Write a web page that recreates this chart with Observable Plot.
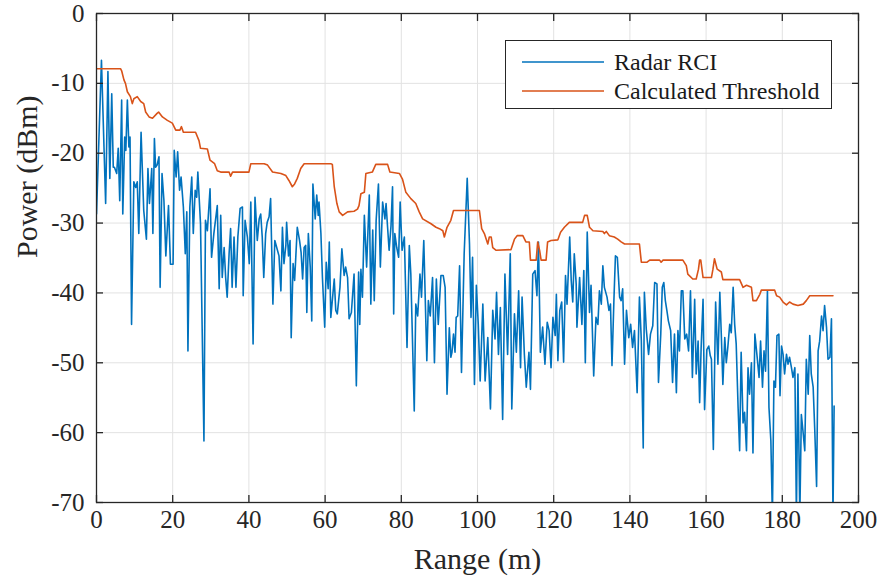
<!DOCTYPE html>
<html>
<head>
<meta charset="utf-8">
<script src="https://cdn.jsdelivr.net/npm/d3@7"></script>
<script src="https://cdn.jsdelivr.net/npm/@observablehq/plot@0.6"></script>
<style>
  body { margin: 0; background: #fff; }
  #wrap { position: relative; width: 880px; height: 585px; }
</style>
</head>
<body>
<div id="wrap" style="font-family:'Liberation Serif'"></div>
<script>
// Radar RCI (range in m, power in dBm)
const rciRange = [
  0,1.3,2.4,3.0,3.5,4.0,4.4,4.7,5.3,5.7,6.1,6.6,6.9,7.4,7.7,8.1,8.5,8.8,9.2,9.8,10.3,10.7,11.1,11.7,12.4,13.1,13.5,13.9,14.5,14.8,15.2,15.5,15.9,16.4,16.7,17.2,17.7,18.2,18.9,19.4,20.1,20.4,20.9,21.3,21.8,22.2,22.8,23.3,23.7,24.0,24.5,25.0,25.4,25.9,26.3,26.6,27.3,
  28.2,28.6,29.1,29.8,30.2,30.8,31.7,32.2,32.6,33.0,33.5,33.9,34.3,34.8,35.2,35.6,36.1,36.6,37.1,37.7,38.3,38.5,39.0,39.6,40.1,40.5,41.1,41.6,42.2,42.7,43.1,43.5,43.9,44.4,44.8,45.3,45.7,46.3,46.8,47.3,47.9,48.4,48.8,49.2,49.7,49.9,50.4,50.8,51.1,51.6,52.0,52.7,53.3,53.7,54.1,54.5,54.9,55.2,55.6,56.1,56.5,56.8,57.1,57.4,57.8,58.2,58.4,58.9,59.3,59.9,60.3,60.8,61.1,61.5,
  62.4,62.8,63.2,63.9,64.4,65.0,65.4,65.9,66.3,66.9,67.6,68.2,68.8,69.1,69.4,69.8,70.3,70.9,71.6,72.0,72.5,72.9,73.4,74.0,74.5,75.1,75.7,76.0,76.4,76.8,77.3,77.7,78.0,78.3,78.8,79.3,79.7,80.2,80.8,81.5,82.1,82.5,83.4,83.8,84.3,84.9,85.3,85.9,86.7,87.1,87.6,88.2,88.7,89.2,89.7,90.4,91.0,91.5,92.0,92.6,93.0,
  93.3,93.7,94.1,94.4,94.8,95.3,95.8,96.5,97.3,97.9,98.3,98.7,99.2,99.7,100.2,100.7,101.4,102.0,102.7,103.4,104.0,104.6,105.0,105.5,106.0,106.6,107.2,107.9,108.6,109.0,109.7,110.2,110.8,111.3,111.7,112.3,112.8,113.5,113.9,114.5,115.1,115.6,116.0,116.5,117.1,117.7,118.3,118.8,119.3,119.8,120.4,120.7,121.1,121.6,122.1,122.6,123.1,123.5,124.2,124.6,
  125.0,125.4,125.9,126.1,126.8,127.4,127.9,128.3,128.8,129.4,129.8,130.5,131.1,131.6,132.0,132.5,132.9,133.3,134.0,134.5,134.9,135.3,135.8,136.2,136.7,137.3,137.7,138.1,138.6,139.1,139.7,140.2,140.7,141.2,141.9,142.5,143.0,143.5,143.8,144.3,144.9,145.4,146.0,146.5,147.1,147.5,148.1,148.5,148.9,149.3,149.7,150.1,150.7,151.2,151.7,152.2,152.6,153.0,153.5,153.9,154.4,154.9,155.4,155.9,156.4,
  157.0,157.4,157.9,158.3,158.7,159.2,159.6,160.2,160.7,161.1,161.4,161.9,162.5,163.1,163.6,164.0,164.4,164.9,165.3,165.7,166.2,166.6,167.1,167.5,167.9,168.4,168.8,169.2,169.7,170.1,170.6,171.0,171.4,171.9,172.3,172.8,173.4,173.9,174.3,174.8,175.2,175.6,176.1,176.5,177.0,177.4,177.8,178.2,178.6,179.1,179.4,179.8,180.2,180.6,181.1,181.5,181.9,182.4,182.8,183.3,183.7,184.1,184.6,185.0,185.5,185.9,186.3,186.8,187.2,187.6,188.1,188.5,189.0,189.4,189.8,190.3,190.7,191.1,191.6,192.0,192.5,192.9,193.3,193.6
];
const rciPower = [
  -28.7,-6.7,-27.2,-8.3,-23.6,-11.5,-22,-22,-22.9,-19.3,-26.8,-12.4,-28.7,-17.7,-19.6,-12.4,-19.1,-17.7,-44.5,-24.1,-24.9,-24.1,-31.5,-17,-28.2,-32.3,-22.2,-27.2,-22.2,-31.5,-17.9,-22,-21.7,-20.5,-39.2,-22.9,-26.8,-34.7,-27.5,-35.9,-35.9,-19.6,-23.4,-19.8,-25.3,-23.4,-27.7,-34.4,-28.4,-48.3,-27.7,-23.4,-31.5,-25.3,-26.3,-22.7,-30.1,
  -61.2,-29.6,-31.1,-25.1,-34.9,-31.5,-27.5,-39.4,-28.9,-37.8,-33.5,-37.8,-40.6,-34.4,-30.8,-39.2,-32,-39.2,-32,-27.9,-27.7,-40.4,-29.6,-32,-35.8,-27,-47.3,-26.3,-32.5,-29.4,-28.7,-32,-37.8,-31.5,-29.9,-29.1,-26.5,-41.6,-32.5,-33.5,-34.7,-39.7,-30.6,-35.8,-33.2,-29.9,-34.7,-32.5,-46.4,-35.8,-38.2,-30.6,-32.5,-34.2,-38,-33.5,-33.2,-42.8,-31.5,-36.3,-44,-24.4,-26.8,-29.4,-26,-28.9,-27,-31.5,-37.8,-44.9,-35.6,-39.4,-32.7,-43.5,
  -38,-42.5,-43,-39.2,-33.7,-37.5,-36.3,-37.8,-43.7,-42.8,-37.3,-53.3,-37,-44.5,-36.6,-40.6,-28.9,-36.3,-26,-41.6,-31,-41.1,-29.6,-24.4,-36.3,-27,-29.4,-27.2,-30.6,-33.9,-30.4,-24.8,-43,-31.5,-33.5,-34.9,-27,-33.9,-32,-47.8,-33.2,-37.3,-56.9,-41.6,-43.3,-37.3,-40.6,-32.5,-49.7,-41.1,-43.3,-37.8,-50,-38,-44.5,-37.5,-37.5,-39.2,-54.5,-45,-49.2,
  -48.5,-45.9,-48.5,-43.5,-43.3,-36.1,-51.4,-34.4,-23.6,-33,-43.5,-34.9,-53.1,-38.9,-44.5,-52.6,-41.6,-52.6,-46.4,-56.6,-42.5,-46.6,-39.9,-48.8,-42.1,-58.1,-37.3,-48.8,-34.4,-56.6,-43,-48.5,-39.7,-50.7,-40.6,-48.8,-53.5,-48.5,-53.8,-37.3,-36.8,-40.4,-32.7,-48.5,-44.9,-50.2,-44.2,-45.4,-50.7,-43.5,-46.1,-40.2,-49.7,-42.5,-41.3,-49.9,-37.5,-41.6,-32,-38.2,
  -41.3,-34.4,-38.7,-44.9,-37.8,-44.5,-36.8,-50,-31.3,-42.8,-38.9,-51.9,-43.5,-44.5,-39.7,-41.6,-36.1,-39.2,-40.6,-42.5,-41.6,-50.4,-41.1,-34.7,-34.9,-40.6,-41.1,-39.4,-50.2,-42.5,-46.4,-44.5,-47.8,-45.4,-54.3,-40.6,-46.8,-62.2,-39.9,-45.2,-48.8,-45.9,-44.7,-38.5,-38.7,-52.8,-45.9,-39.2,-38.5,-41.1,-42.5,-44,-45.4,-52.8,-45.9,-54.3,-45.4,-48.3,-39.7,-39.7,-46.6,-45.9,-48.3,-39.7,-52.1,
  -40.9,-51.6,-46.9,-55.7,-47.8,-40.9,-56.7,-48.1,-47.6,-49,-49.5,-62.4,-41.3,-50.2,-39.9,-46.1,-53.1,-46.4,-50,-47.8,-44.5,-45.7,-39.2,-44.5,-47.3,-56.4,-62.6,-48.5,-58.6,-57.1,-62.6,-50.7,-54.5,-50,-62.9,-45.9,-49.2,-52.1,-46.9,-53.5,-48.3,-51.2,-39.7,-56.4,-61.2,-72,-52.6,-53.5,-46.1,-45.9,-54.7,-47.6,-48.8,-51.6,-48.8,-50.2,-49.2,-50.7,-52.1,-50.7,-72,-51.6,-72,-57.4,-60.2,-62.6,-49.5,-54.5,-46.1,-51.6,-53.5,-59.3,-67.7,-48.3,-46.9,-43.3,-45.4,-41.8,-44.9,-49.5,-49.2,-43.7,-72,-56.2
];

// Calculated Threshold
const thrRange = [
  0,6.3,6.6,7.2,7.6,8.1,8.9,9.4,9.8,10.7,11.6,12.4,12.9,13.8,14.7,15.9,16.3,17.3,18.6,19.9,20.8,21.9,22.3,22.8,26,26.9,27.3,29.1,29.8,31,31.7,32.6,34.8,35.2,35.7,40.0,40.5,44.0,44.9,46.2,48.4,49.7,50.5,51.4,52.0,52.7,53.6,54.5,61.5,61.9,62.4,63.1,63.7,64.6,65.9,67.6,68.5,68.9,69.4,70.3,70.7,72.4,73.3,76.4,77,79.5,80.3,81.2,82.5,83.8,84.7,85.6,87.8,89.1,90,90.9,91.3,92,93,93.7,100.5,101.1,101.8,102.7,103.1,103.6,104,104.9,108.8,109.7,110.4,111.9,112.7,113.6,113.9,115.4,115.8,116.3,116.7,118,118.4,119.3,121.1,121.8,122.8,124.1,127.6,128.1,128.8,129.4,130.3,132.9,133.3,133.8,134.6,135.9,136.8,137.7,138.6,142.5,143,144.5,145.2,147.8,148.2,148.7,153.9,154.8,155.2,156.5,157.4,158,158.3,158.6,159.2,161.4,161.8,162.2,162.9,164,164.4,168.8,169.7,170.6,171.9,172.3,173.2,174.1,174.5,178,178.5,179.3,180.2,181.1,181.9,182.8,184.1,185.5,186.3,187.2,193.3
];
const thrPower = [
  -7.9,-7.9,-8.2,-9.5,-10,-11.2,-11.9,-12.9,-12.2,-11.9,-12.6,-12.9,-14.1,-14.8,-15.0,-14.3,-14.1,-14.8,-15.3,-15.7,-16.7,-16.7,-16.2,-17,-17,-18.2,-19.3,-19.4,-21,-21.5,-22.5,-22.7,-22.7,-23.3,-22.7,-22.7,-21.5,-21.5,-21.7,-22.7,-22.9,-23.2,-23.9,-24.8,-24.4,-23.6,-22.2,-21.5,-21.5,-21.6,-24.8,-27.2,-28.4,-28.9,-28.4,-28.3,-28,-27.5,-25.8,-25.6,-22.9,-22.7,-21.6,-21.6,-22.7,-22.9,-23.7,-25.6,-26.5,-27.2,-28.4,-29.4,-30.1,-30.6,-30.8,-31.1,-32,-30.6,-29.6,-28.2,-28.2,-30.8,-31.5,-33,-32,-32,-33.5,-33.9,-33.8,-32.3,-31.8,-31.8,-32.7,-32.7,-35.3,-35.3,-32.7,-33.9,-35.3,-35.3,-32.7,-32.5,-32.4,-31.3,-30.6,-29.9,-29.9,-28.9,-28.9,-30.6,-31.1,-31.2,-31.5,-31.2,-31.8,-32.0,-32.3,-32.7,-33,-33,-35.6,-35.6,-35.3,-35.3,-35.6,-35.3,-35.3,-36.1,-37.3,-38.0,-38,-36.6,-35.3,-35.3,-37.8,-37.8,-36.6,-35.1,-36.6,-37,-38.1,-38.1,-39.2,-38.9,-39.2,-41.1,-41.1,-40.2,-39.6,-39.6,-40.4,-40.6,-41.3,-41.7,-41.3,-41.6,-41.8,-41.6,-41.1,-40.4,-40.4
];

const xTicks = [0, 20, 40, 60, 80, 100, 120, 140, 160, 180, 200];
const yTicks = [0, -10, -20, -30, -40, -50, -60, -70];
const seriesNames = ["Radar RCI", "Calculated Threshold"];
const seriesColors = ["#0072BD", "#D95319"];
const xLabel = "Range (m)";
const yLabel = "Power (dBm)";

const rci = rciRange.map((r, i) => ({r, p: rciPower[i]}));
const thr = thrRange.map((r, i) => ({r, p: thrPower[i]}));

const axisColor = "#262626";
const font = "Liberation Serif";

const chart = Plot.plot({
  width: 880,
  height: 585,
  marginLeft: 96,
  marginRight: 22,
  marginTop: 13,
  marginBottom: 83,
  x: {domain: [0, 200]},
  y: {domain: [-70, 0]},
  style: {fontFamily: font, color: axisColor, background: "white", overflow: "visible"},
  marks: [
    Plot.gridX(xTicks, {stroke: "#e2e2e2", strokeOpacity: 1, strokeWidth: 1}),
    Plot.gridY(yTicks, {stroke: "#e2e2e2", strokeOpacity: 1, strokeWidth: 1}),
    Plot.line(rci, {x: "r", y: "p", stroke: seriesColors[0], strokeWidth: 1.6, clip: true}),
    Plot.line(thr, {x: "r", y: "p", stroke: seriesColors[1], strokeWidth: 1.6, clip: true}),
    Plot.frame({stroke: axisColor, strokeWidth: 1.3}),
    Plot.axisX(xTicks, {anchor: "bottom", tickSize: -7, tickFormat: () => "", label: null, stroke: axisColor, strokeWidth: 1.3}),
    Plot.axisX(xTicks, {anchor: "top", tickSize: -7, tickFormat: () => "", label: null, stroke: axisColor, strokeWidth: 1.3}),
    Plot.axisY(yTicks, {anchor: "left", tickSize: -7, tickFormat: () => "", label: null, stroke: axisColor, strokeWidth: 1.3}),
    Plot.axisY(yTicks, {anchor: "right", tickSize: -7, tickFormat: () => "", label: null, stroke: axisColor, strokeWidth: 1.3}),
    Plot.axisX(xTicks, {anchor: "bottom", tickSize: 0, tickPadding: 8, tickFormat: d => String(d), label: null, fontSize: 25, fontFamily: font, fill: axisColor}),
    Plot.axisY(yTicks, {anchor: "left", tickSize: 0, tickPadding: 12, tickFormat: d => String(d), label: null, fontSize: 25, fontFamily: font, fill: axisColor}),
    Plot.text([xLabel], {frameAnchor: "bottom", dy: 66, fontSize: 30, fontFamily: font, fill: axisColor}),
    Plot.text([yLabel], {frameAnchor: "left", dx: -69, rotate: -90, fontSize: 30, fontFamily: font, fill: axisColor})
  ]
});

const wrap = document.getElementById("wrap");
wrap.appendChild(chart);

// Legend (inside the axes, top-right)
const legend = document.createElement("div");
legend.setAttribute("style", "position:absolute;left:505px;top:40px;width:325px;height:67px;border:1.3px solid #262626;background:#fff;font-family:'Liberation Serif';");
seriesNames.forEach((name, i) => {
  const item = document.createElement("div");
  item.setAttribute("style", `position:absolute;left:16px;top:${7 + i * 29}px;height:28px;display:flex;align-items:center;font-family:'Liberation Serif';`);
  item.innerHTML = `<svg width="82" height="28" style="display:block"><line x1="0" x2="82" y1="14" y2="14" stroke="${seriesColors[i]}" stroke-width="1.6"/></svg>` +
    `<span style="font-family:'Liberation Serif';font-size:24px;line-height:28px;color:#1a1a1a;margin-left:10px;white-space:nowrap">${name}</span>`;
  legend.appendChild(item);
});
wrap.appendChild(legend);
</script>
</body>
</html>
